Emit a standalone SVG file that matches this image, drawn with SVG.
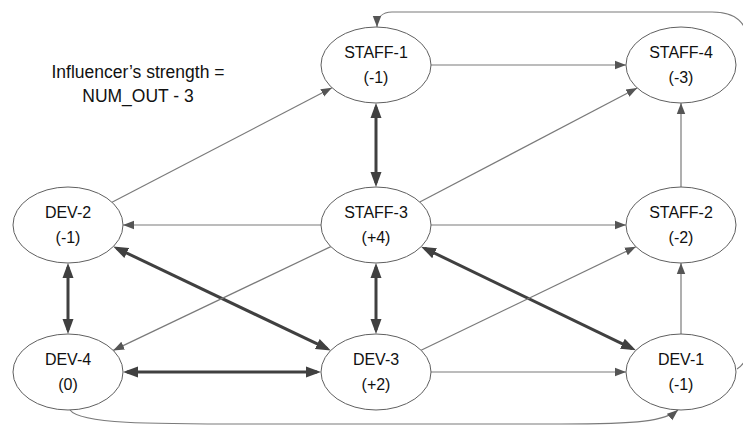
<svg xmlns="http://www.w3.org/2000/svg" width="743" height="427" viewBox="0 0 743 427">
  <style>
    .node ellipse { fill: #ffffff; stroke: #606060; stroke-width: 1; }
    .node text, .note { font-family: "Liberation Sans", Arial, sans-serif; font-size: 16px; fill: #111111; text-anchor: middle; }
    .note { font-size: 17.5px; }
    .thin { fill: none; stroke: #7a7a7a; stroke-width: 1.2; marker-end: url(#arrowThin); }
    .thick { fill: none; stroke: #404040; stroke-width: 3; marker-start: url(#arrowThick); marker-end: url(#arrowThick); }
  </style>
  <defs>
    <marker id="arrowThin" markerUnits="userSpaceOnUse" markerWidth="12" markerHeight="10" viewBox="0 0 12 10" refX="11" refY="5" orient="auto">
      <path d="M0,0.8 L11,5 L0,9.2 Z" fill="#555555"/>
    </marker>
    <marker id="arrowThick" markerUnits="userSpaceOnUse" markerWidth="16" markerHeight="14" viewBox="0 0 16 14" refX="11" refY="7" orient="auto-start-reverse">
      <path d="M0,1.5 L15,7 L0,12.5 Z" fill="#404040"/>
    </marker>
  </defs>

  <rect width="743" height="427" fill="#ffffff"/>

  <!-- connectors -->
  <g id="connectors">
    <!-- two-way links -->
    <path class="thick" d="M376,107 V183"/>
    <path class="thick" d="M68,267 V330"/>
    <path class="thick" d="M376,267 V330"/>
    <path class="thick" d="M127,372 H317"/>
    <path class="thick" d="M116.8,248.3 L327.2,348.7"/>
    <path class="thick" d="M424.7,248.4 L632.3,348.6"/>
    <!-- one-way links -->
    <path class="thin" d="M431,65 H626"/>
    <path class="thin" d="M112,202.2 L332,87.8"/>
    <path class="thin" d="M419.8,202 L637.2,88"/>
    <path class="thin" d="M681,187 V103"/>
    <path class="thin" d="M321,225 H123"/>
    <path class="thin" d="M431,225 H626"/>
    <path class="thin" d="M330.8,246.6 L113.2,350.4"/>
    <path class="thin" d="M421.1,350.3 L635.9,246.7"/>
    <path class="thin" d="M681,334 V263"/>
    <path class="thin" d="M431,372 H626"/>
    <path class="thin" d="M70,410 C 80,424 150,424 250,424 L 560,424 C 640,424 665,421 678,410"/>
    <path class="thin" d="M737,369 C 742,366 748,360 748,345 L 748,45 C 748,22 735,12 712,12 L 392,12 C 382,12 377,18 377,27"/>
  </g>

  <!-- legend -->
  <text class="note" x="138" y="78">Influencer’s strength =</text>
  <text class="note" x="138" y="102">NUM_OUT - 3</text>

  <!-- nodes -->
  <g id="staff-1" class="node">
    <ellipse cx="376" cy="65" rx="55" ry="38"/>
    <text x="376" y="58">STAFF-1</text>
    <text x="376" y="83">(-1)</text>
  </g>
  <g id="staff-4" class="node">
    <ellipse cx="681" cy="65" rx="55" ry="38"/>
    <text x="681" y="58">STAFF-4</text>
    <text x="681" y="83">(-3)</text>
  </g>
  <g id="dev-2" class="node">
    <ellipse cx="68" cy="225" rx="55" ry="38"/>
    <text x="68" y="218">DEV-2</text>
    <text x="68" y="243">(-1)</text>
  </g>
  <g id="staff-3" class="node">
    <ellipse cx="376" cy="225" rx="55" ry="38"/>
    <text x="376" y="218">STAFF-3</text>
    <text x="376" y="243">(+4)</text>
  </g>
  <g id="staff-2" class="node">
    <ellipse cx="681" cy="225" rx="55" ry="38"/>
    <text x="681" y="218">STAFF-2</text>
    <text x="681" y="243">(-2)</text>
  </g>
  <g id="dev-4" class="node">
    <ellipse cx="68" cy="372" rx="55" ry="38"/>
    <text x="68" y="365">DEV-4</text>
    <text x="68" y="390">(0)</text>
  </g>
  <g id="dev-3" class="node">
    <ellipse cx="376" cy="372" rx="55" ry="38"/>
    <text x="376" y="365">DEV-3</text>
    <text x="376" y="390">(+2)</text>
  </g>
  <g id="dev-1" class="node">
    <ellipse cx="681" cy="372" rx="55" ry="38"/>
    <text x="681" y="365">DEV-1</text>
    <text x="681" y="390">(-1)</text>
  </g>
</svg>
